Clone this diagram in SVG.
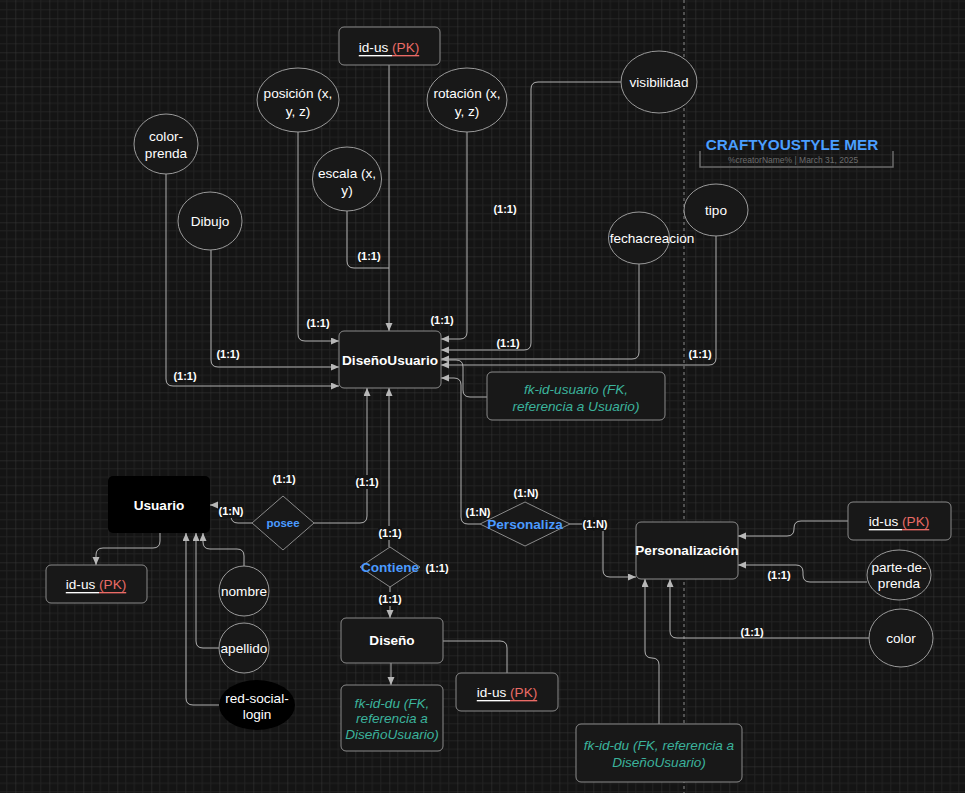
<svg xmlns="http://www.w3.org/2000/svg" width="965" height="793" viewBox="0 0 965 793">
<defs>
<pattern id="grid" patternUnits="userSpaceOnUse" x="15.3" y="18.3" width="34" height="34">
<path d="M8.5,0V34M17,0V34M25.5,0V34M0,8.5H34M0,17H34M0,25.5H34" stroke="#222" stroke-width="1" fill="none"/>
<path d="M0,0V34M0,0H34" stroke="#383838" stroke-width="1" fill="none"/>
</pattern>
<marker id="arr" markerUnits="userSpaceOnUse" markerWidth="9" markerHeight="8" refX="8" refY="3.5" orient="auto">
<path d="M0,0 L8,3.5 L0,7 Z" fill="#b8b8b8"/>
</marker>
<style>
text{font-family:"Liberation Sans",Arial,sans-serif;dominant-baseline:central;text-anchor:middle}
.box{fill:#181818;stroke:#8a8a8a;stroke-width:1}
.ell{fill:#181818;stroke:#9a9a9a;stroke-width:1}
.ent{font-size:13.6px;font-weight:bold;fill:#fff}
.att{font-size:13.6px;fill:#fff}
.rel{font-weight:bold;fill:#4b9bff}
.fk{font-size:13.6px;font-style:italic;fill:#3bb39c}
.pk{font-size:13.6px}
.lbl{font-size:11px;font-weight:bold;fill:#fff}
.lbg{fill:#141414}
.e{fill:none;stroke:#b0b0b0;stroke-width:1}
.ea{fill:none;stroke:#b0b0b0;stroke-width:1;marker-end:url(#arr)}
</style>
</defs>
<rect width="965" height="793" fill="#141414"/>
<rect width="965" height="793" fill="url(#grid)"/>
<line x1="684" y1="0" x2="684" y2="793" stroke="#8a8a8a" stroke-width="1" stroke-dasharray="3,3"/>

<g id="title">
<text x="792" y="144" style="font-size:15.3px;font-weight:bold;fill:#4a9eff">CRAFTYOUSTYLE MER</text>
<path d="M700,151 V167 H893 V151" fill="none" stroke="#6a6a6a" stroke-width="1.5"/>
<text x="793" y="160" style="font-size:8.5px;fill:#6c6c6c">%creatorName% | March 31, 2025</text>
</g>

<g id="connectors">
<path class="ea" d="M389,65 V331"/>
<path class="ea" d="M298,132 V334 Q298,341 305,341 H339"/>
<path class="e" d="M347,211 V261 Q347,268 354,268 H389"/>
<path class="ea" d="M467,132 V332 Q467,339 460,339 H441"/>
<path class="ea" d="M621,82 H538 Q531,82 531,89 V343 Q531,350 524,350 H441"/>
<path class="ea" d="M639,264 V352 Q639,359 632,359 H441"/>
<path class="ea" d="M716,236 V358 Q716,365 709,365 H441"/>
<path class="ea" d="M211,250 V360 Q211,367 218,367 H339"/>
<path class="ea" d="M166,174 V379 Q166,386 173,386 H339"/>
<path class="e" d="M487,397 H470 Q463,397 463,390 V367 Q463,360 456,360 H441"/>
<path class="ea" d="M480,524 H468 Q461,524 461,517 V385 Q461,378 454,378 H441"/>
<path class="ea" d="M389,547 V388"/>
<path class="ea" d="M314,523 H360 Q367,523 367,516 V388"/>
<path class="ea" d="M252,523 H238 Q231,523 231,516 V505 H210"/>
<path class="ea" d="M160,533 V541 Q160,548 153,548 H103 Q96,548 96,555 V565"/>
<path class="ea" d="M244,566 V556 Q244,549 237,549 H210 Q203,549 203,542 V533"/>
<path class="ea" d="M219,648 H203 Q196,648 196,641 V533"/>
<path class="ea" d="M219,705 H193 Q186,705 186,698 V533"/>
<path class="ea" d="M390,587 V618"/>
<path class="ea" d="M391,663 V685"/>
<path class="e" d="M443,641 H500 Q507,641 507,648 V673"/>
<path class="ea" d="M570,524 H596 Q603,524 603,531 V570 Q603,577 610,577 H636"/>
<path class="ea" d="M848,521 H801 Q794,521 794,528 V529 Q794,536 787,536 H738"/>
<path class="ea" d="M867,582 H810 Q803,582 803,575 V572 Q803,565 796,565 H738"/>
<path class="ea" d="M869,638 H677 Q670,638 670,631 V579"/>
<path class="ea" d="M659,724 V665 Q659,658 652,658 Q645,658 645,651 V579"/>
</g>

<g id="labels">
<text class="lbl" x="318" y="323">(1:1)</text>
<text class="lbl" x="369" y="256">(1:1)</text>
<text class="lbl" x="442" y="320">(1:1)</text>
<text class="lbl" x="505" y="209">(1:1)</text>
<text class="lbl" x="508" y="343">(1:1)</text>
<text class="lbl" x="700" y="354">(1:1)</text>
<text class="lbl" x="228" y="354">(1:1)</text>
<text class="lbl" x="185" y="376">(1:1)</text>
<text class="lbl" x="284" y="479">(1:1)</text>
<rect class="lbg" x="355" y="475" width="24" height="14"/>
<text class="lbl" x="367" y="482">(1:1)</text>
<rect class="lbg" x="218" y="504" width="26" height="14"/>
<text class="lbl" x="231" y="511">(1:N)</text>
<rect class="lbg" x="378" y="526" width="24" height="14"/>
<text class="lbl" x="390" y="533">(1:1)</text>
<text class="lbl" x="437" y="568">(1:1)</text>
<rect class="lbg" x="378" y="592" width="24" height="14"/>
<text class="lbl" x="390" y="599">(1:1)</text>
<text class="lbl" x="526" y="493">(1:N)</text>
<text class="lbl" x="478" y="512">(1:N)</text>
<rect class="lbg" x="582" y="517" width="26" height="14"/>
<text class="lbl" x="595" y="524">(1:N)</text>
<text class="lbl" x="779" y="575">(1:1)</text>
<text class="lbl" x="752" y="632">(1:1)</text>
</g>

<g id="pk-disenousuario">
<rect class="box" x="339" y="27" width="101" height="38" rx="5"/>
<text class="pk" x="389" y="47"><tspan fill="#fff" text-decoration="underline">id-us </tspan><tspan fill="#ea6b66" text-decoration="underline">(PK)</tspan></text>
</g>
<g id="posicion">
<ellipse class="ell" cx="298" cy="100" rx="41" ry="32"/>
<text class="att" x="298" y="93">posición (x,</text>
<text class="att" x="298" y="111">y, z)</text>
</g>
<g id="rotacion">
<ellipse class="ell" cx="467" cy="100" rx="40" ry="32"/>
<text class="att" x="467" y="93">rotación (x,</text>
<text class="att" x="467" y="111">y, z)</text>
</g>
<g id="escala">
<ellipse class="ell" cx="347" cy="179" rx="34.5" ry="32"/>
<text class="att" x="347" y="173">escala (x,</text>
<text class="att" x="347" y="190">y)</text>
</g>
<g id="color-prenda">
<ellipse class="ell" cx="166" cy="144" rx="32" ry="30"/>
<text class="att" x="166" y="136">color-</text>
<text class="att" x="166" y="153">prenda</text>
</g>
<g id="dibujo">
<ellipse class="ell" cx="210" cy="221" rx="32" ry="29"/>
<text class="att" x="210" y="221">Dibujo</text>
</g>
<g id="visibilidad">
<ellipse class="ell" cx="659" cy="82" rx="38" ry="31"/>
<text class="att" x="659" y="82">visibilidad</text>
</g>
<g id="fechacreacion">
<ellipse class="ell" cx="639" cy="238" rx="30.5" ry="26"/>
<text class="att" x="652" y="238">fechacreacion</text>
</g>
<g id="tipo">
<ellipse class="ell" cx="716" cy="210" rx="32" ry="26"/>
<text class="att" x="716" y="210">tipo</text>
</g>
<g id="disenousuario">
<rect class="box" x="339" y="331" width="102" height="57" rx="5"/>
<text class="ent" x="390" y="360">DiseñoUsuario</text>
</g>
<g id="fk-id-usuario">
<rect class="box" x="487" y="372" width="178" height="48" rx="5"/>
<text class="fk" x="576" y="389">fk-id-usuario (FK,</text>
<text class="fk" x="576" y="406">referencia a Usuario)</text>
</g>
<g id="usuario">
<rect x="108" y="476" width="102" height="57" rx="5" fill="#000"/>
<text class="ent" x="159" y="505">Usuario</text>
</g>
<g id="posee">
<path class="box" d="M283,496 L314,523 L283,550 L252,523 Z"/>
<text class="rel" x="283" y="523" style="font-size:11.5px">posee</text>
</g>
<g id="pk-usuario">
<rect class="box" x="46" y="565" width="101" height="38" rx="5"/>
<text class="pk" x="96" y="584"><tspan fill="#fff" text-decoration="underline">id-us </tspan><tspan fill="#ea6b66" text-decoration="underline">(PK)</tspan></text>
</g>
<g id="nombre">
<ellipse class="ell" cx="244" cy="591" rx="25" ry="25"/>
<text class="att" x="244" y="591">nombre</text>
</g>
<g id="apellido">
<ellipse class="ell" cx="244" cy="648" rx="25" ry="25"/>
<text class="att" x="244" y="648">apellido</text>
</g>
<g id="red-social-login">
<ellipse cx="257" cy="705" rx="38" ry="25" fill="#000"/>
<text class="att" x="257" y="698">red-social-</text>
<text class="att" x="257" y="714">login</text>
</g>
<g id="contiene">
<path class="box" d="M390,547 L420,567 L390,587 L360,567 Z"/>
<text class="rel" x="390" y="567" style="font-size:13.6px">Contiene</text>
</g>
<g id="diseno">
<rect class="box" x="341" y="618" width="102" height="45" rx="5"/>
<text class="ent" x="392" y="640">Diseño</text>
</g>
<g id="fk-id-du">
<rect class="box" x="341" y="685" width="102" height="66" rx="5"/>
<text class="fk" x="392" y="703">fk-id-du (FK,</text>
<text class="fk" x="392" y="718">referencia a</text>
<text class="fk" x="392" y="734">DiseñoUsuario)</text>
</g>
<g id="pk-diseno">
<rect class="box" x="456" y="673" width="102" height="38" rx="5"/>
<text class="pk" x="507" y="692"><tspan fill="#fff" text-decoration="underline">id-us </tspan><tspan fill="#ea6b66" text-decoration="underline">(PK)</tspan></text>
</g>
<g id="personaliza">
<path class="box" d="M525,502 L570,524 L525,546 L480,524 Z"/>
<text class="rel" x="525" y="524" style="font-size:13.6px">Personaliza</text>
</g>
<g id="personalizacion">
<rect class="box" x="636" y="522" width="102" height="57" rx="5"/>
<text class="ent" x="687" y="550">Personalización</text>
</g>
<g id="pk-personalizacion">
<rect class="box" x="848" y="502" width="103" height="38" rx="5"/>
<text class="pk" x="899" y="521"><tspan fill="#fff" text-decoration="underline">id-us </tspan><tspan fill="#ea6b66" text-decoration="underline">(PK)</tspan></text>
</g>
<g id="parte-de-prenda">
<ellipse class="ell" cx="899" cy="575" rx="32" ry="25"/>
<text class="att" x="899" y="567">parte-de-</text>
<text class="att" x="899" y="583">prenda</text>
</g>
<g id="color">
<ellipse class="ell" cx="901" cy="638" rx="32" ry="29"/>
<text class="att" x="901" y="638">color</text>
</g>
<g id="fk-id-du-personalizacion">
<rect class="box" x="576" y="724" width="166" height="58" rx="5"/>
<text class="fk" x="659" y="745">fk-id-du (FK, referencia a</text>
<text class="fk" x="659" y="762">DiseñoUsuario)</text>
</g>
</svg>
